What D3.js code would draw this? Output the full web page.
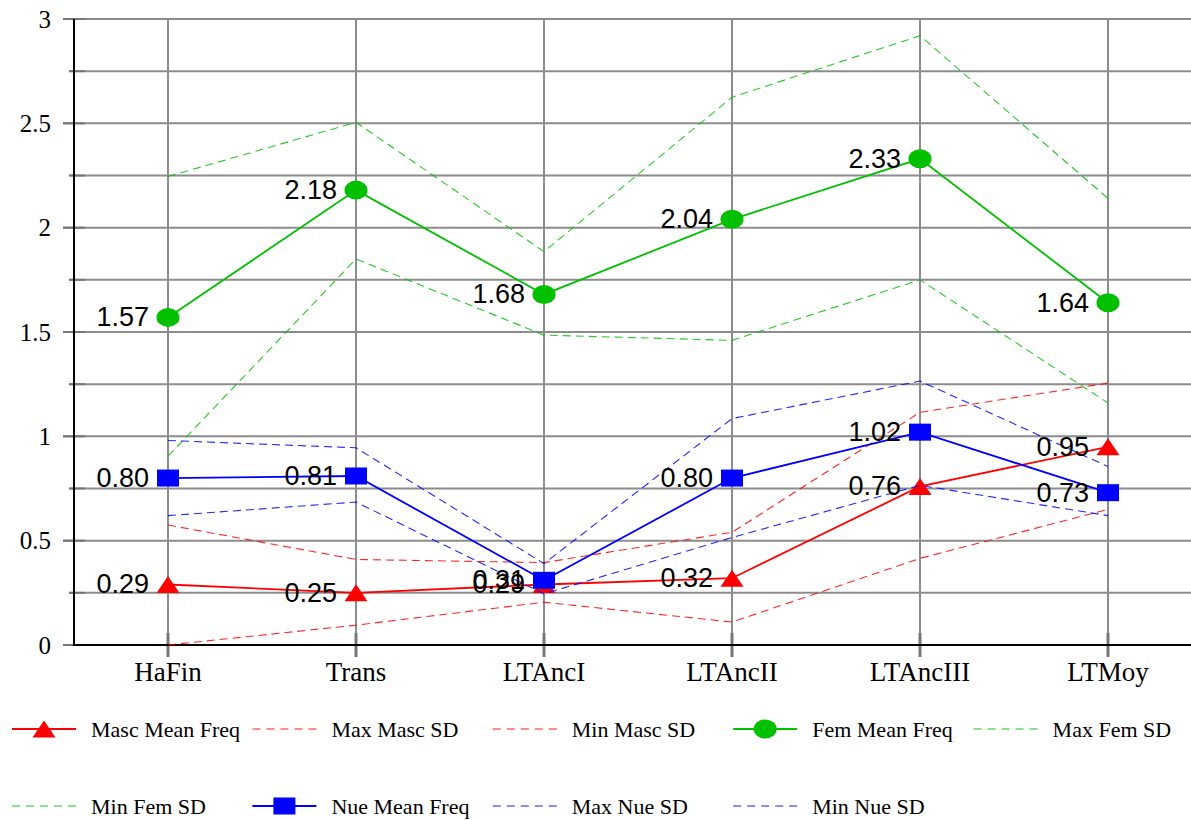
<!DOCTYPE html>
<html>
<head>
<meta charset="utf-8">
<script src="https://cdn.jsdelivr.net/npm/d3@7"></script>
<style>
  html, body { margin: 0; padding: 0; background: #fff; }
  svg { display: block; }
</style>
</head>
<body>
<svg id="chart" width="1191" height="820"></svg>
<script>
const categories = ["HaFin", "Trans", "LTAncI", "LTAncII", "LTAncIII", "LTMoy"];
const mascMean  = [0.29, 0.25, 0.29, 0.32, 0.76, 0.95];
const maxMascSD = [0.575, 0.41, 0.395, 0.54, 1.115, 1.255];
const minMascSD = [0.0, 0.095, 0.205, 0.11, 0.415, 0.65];
const femMean   = [1.57, 2.18, 1.68, 2.04, 2.33, 1.64];
const maxFemSD  = [2.245, 2.505, 1.885, 2.625, 2.92, 2.14];
const minFemSD  = [0.905, 1.85, 1.485, 1.46, 1.75, 1.16];
const nueMean   = [0.80, 0.81, 0.31, 0.80, 1.02, 0.73];
const maxNueSD  = [0.98, 0.945, 0.39, 1.085, 1.265, 0.855];
const minNueSD  = [0.62, 0.685, 0.245, 0.515, 0.765, 0.62];
const yTickValues = [0, 0.5, 1, 1.5, 2, 2.5, 3];
const yTickLabels = ["0", "0.5", "1", "1.5", "2", "2.5", "3"];
const seriesNames = ["Masc Mean Freq", "Max Masc SD", "Min Masc SD", "Fem Mean Freq", "Max Fem SD",
                     "Min Fem SD", "Nue Mean Freq", "Max Nue SD", "Min Nue SD"];

const RED = "#ff0000", GREEN = "#00c000", BLUE = "#0000ff";
const series = [
  { name: seriesNames[0], values: mascMean,  color: RED,   dashed: false, marker: "triangle" },
  { name: seriesNames[1], values: maxMascSD, color: RED,   dashed: true },
  { name: seriesNames[2], values: minMascSD, color: RED,   dashed: true },
  { name: seriesNames[3], values: femMean,   color: GREEN, dashed: false, marker: "circle" },
  { name: seriesNames[4], values: maxFemSD,  color: GREEN, dashed: true },
  { name: seriesNames[5], values: minFemSD,  color: GREEN, dashed: true },
  { name: seriesNames[6], values: nueMean,   color: BLUE,  dashed: false, marker: "square" },
  { name: seriesNames[7], values: maxNueSD,  color: BLUE,  dashed: true },
  { name: seriesNames[8], values: minNueSD,  color: BLUE,  dashed: true }
];

const svg = d3.select("#chart");
const pLeft = 74, pRight = 1202, pTop = 19, pBottom = 645;
const x = d3.scalePoint().domain(categories).range([pLeft, pRight]).padding(0.5);
const y = d3.scaleLinear().domain([0, 3]).range([pBottom, pTop]);

const GRID = "#8c8c8c";
const grid = svg.append("g");
const minor = d3.range(0, 3.0001, 0.25);
const isMajor = d => Math.abs(d * 2 - Math.round(d * 2)) < 1e-6;
grid.selectAll("line.h").data(minor).enter().append("line")
  .attr("x1", d => isMajor(d) ? 63 : 69)
  .attr("x2", 1191)
  .attr("y1", d => y(d)).attr("y2", d => y(d))
  .attr("stroke", GRID).attr("stroke-width", 2);
grid.selectAll("line.v").data(categories).enter().append("line")
  .attr("x1", d => x(d)).attr("x2", d => x(d))
  .attr("y1", pTop).attr("y2", pBottom)
  .attr("stroke", GRID).attr("stroke-width", 2);
grid.selectAll("line.xt").data(categories).enter().append("line")
  .attr("x1", d => x(d)).attr("x2", d => x(d))
  .attr("y1", 633).attr("y2", 657)
  .attr("stroke", "#777").attr("stroke-width", 3);
grid.selectAll("line.yt").data(minor).enter().append("line")
  .attr("x1", d => isMajor(d) ? 63 : 69)
  .attr("x2", 85)
  .attr("y1", d => y(d)).attr("y2", d => y(d))
  .attr("stroke", "#777").attr("stroke-width", 2);

svg.append("line").attr("x1", pLeft).attr("x2", pLeft).attr("y1", pTop).attr("y2", pBottom + 1)
  .attr("stroke", "#000").attr("stroke-width", 2);
svg.append("line").attr("x1", pLeft).attr("x2", 1191).attr("y1", pBottom).attr("y2", pBottom)
  .attr("stroke", "#000").attr("stroke-width", 2);

svg.append("g").selectAll("text").data(yTickValues).enter().append("text")
  .attr("x", 51).attr("y", d => y(d))
  .attr("text-anchor", "end").attr("dominant-baseline", "central")
  .attr("font-family", "'Liberation Serif', 'Times New Roman', serif")
  .attr("font-size", 25).attr("fill", "#000")
  .text((d, i) => yTickLabels[i]);

svg.append("g").selectAll("text").data(categories).enter().append("text")
  .attr("x", d => x(d)).attr("y", 681)
  .attr("text-anchor", "middle")
  .attr("font-family", "'Liberation Serif', 'Times New Roman', serif")
  .attr("font-size", 27).attr("fill", "#000")
  .text(d => d);

const line = d3.line().x((d, i) => x(categories[i])).y(d => y(d));

function drawMarker(g, type, cx, cy, color) {
  if (type === "triangle") {
    g.append("path")
      .attr("d", `M${cx},${cy - 8.5}L${cx + 11.5},${cy + 8.5}L${cx - 11.5},${cy + 8.5}Z`)
      .attr("fill", color);
  } else if (type === "circle") {
    g.append("ellipse").attr("cx", cx).attr("cy", cy).attr("rx", 11.5).attr("ry", 9.5).attr("fill", color);
  } else if (type === "square") {
    g.append("rect").attr("x", cx - 11).attr("y", cy - 8.5).attr("width", 22).attr("height", 17).attr("fill", color);
  }
}

const plot = svg.append("g");
const labelsG = svg.append("g");
series.forEach(s => {
  const g = plot.append("g");
  g.append("path").datum(s.values).attr("d", line)
    .attr("fill", "none").attr("stroke", s.color)
    .attr("stroke-width", s.dashed ? 1.1 : 1.8)
    .attr("stroke-dasharray", s.dashed ? "8,5" : null)
    .attr("stroke-opacity", s.dashed ? 0.85 : 1);
  if (s.marker) {
    s.values.forEach((v, i) => {
      drawMarker(g, s.marker, x(categories[i]), y(v), s.color);
      labelsG.append("text")
        .attr("x", x(categories[i]) - 19).attr("y", y(v))
        .attr("text-anchor", "end").attr("dominant-baseline", "central")
        .attr("font-family", "'Liberation Sans', Arial, sans-serif")
        .attr("font-size", 27).attr("fill", "#000")
        .text(d3.format(".2f")(v));
    });
  }
});

const legend = svg.append("g");
series.forEach((s, i) => {
  const col = i % 5, row = Math.floor(i / 5);
  const lx = 12 + col * 240.4, ly = 729 + row * 77;
  const g = legend.append("g");
  g.append("line").attr("x1", lx).attr("x2", lx + 64).attr("y1", ly).attr("y2", ly)
    .attr("stroke", s.color)
    .attr("stroke-width", s.dashed ? 1.3 : 1.8)
    .attr("stroke-dasharray", s.dashed ? "8,6" : null)
    .attr("stroke-opacity", s.dashed ? 0.6 : 1);
  if (s.marker) drawMarker(g, s.marker, lx + 32, ly, s.color);
  g.append("text").attr("x", lx + 79).attr("y", ly)
    .attr("dominant-baseline", "central")
    .attr("font-family", "'Liberation Serif', 'Times New Roman', serif")
    .attr("font-size", 22).attr("fill", "#000")
    .text(s.name);
});
</script>
</body>
</html>
